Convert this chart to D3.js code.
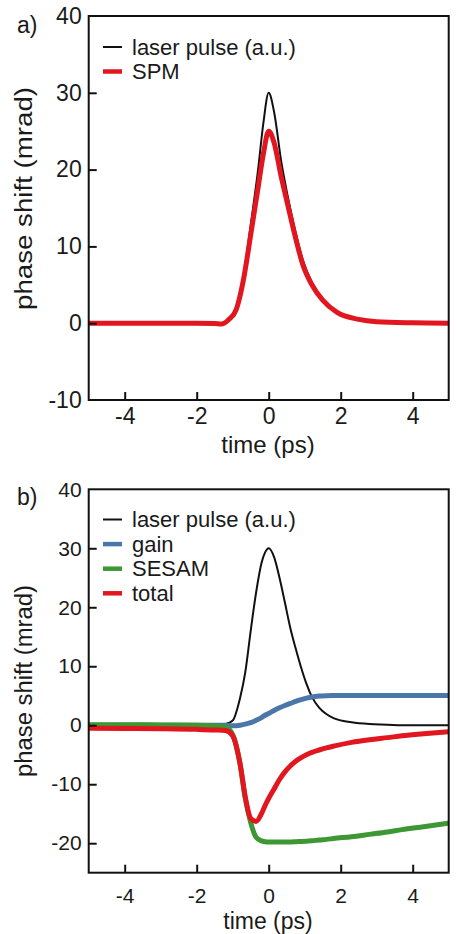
<!DOCTYPE html>
<html><head><meta charset="utf-8">
<script src="https://cdn.jsdelivr.net/npm/d3@7"></script>
<style>
body{margin:0;background:#fff;}
svg{display:block;}
text{font-family:"Liberation Sans",Arial,Helvetica,sans-serif;fill:#1a1a1a;}
</style>
</head><body>
<svg id="c" width="456" height="934"></svg>
<script>
// ---- data ----
const xTicks = [-4, -2, 0, 2, 4];
const topYTicks = [-10, 0, 10, 20, 30, 40];
const botYTicks = [-20, -10, 0, 10, 20, 30, 40];

const topTime  = [-5, -4, -3, -2, -1.5, -1.3, -1.1, -0.9, -0.7, -0.5, -0.3, -0.15, 0, 0.15, 0.35, 0.5, 0.7, 0.95, 1.2, 1.5, 1.9, 2.5, 3, 4, 5];
const topLaser = [0, 0, 0, 0, 0, 0, 0.6, 2.1, 6.2, 12.8, 19.8, 26, 30, 27.5, 21, 17.2, 12.8, 8.2, 5.3, 3.1, 1.45, 0.5, 0.2, 0.05, 0];
const topSPM   = [0, 0, 0, 0, -0.05, -0.1, 0.5, 1.8, 5.7, 11.5, 17.5, 22, 25, 23.5, 19, 16, 12, 7.6, 5, 3, 1.4, 0.5, 0.2, 0.05, 0];

const botTime  = [-5, -4, -3, -2, -1.5, -1.2, -1.0, -0.8, -0.65, -0.5, -0.35, -0.2, -0.1, 0, 0.15, 0.3, 0.45, 0.6, 0.75, 0.9, 1.05, 1.2, 1.4, 1.6, 1.8, 2.3, 2.8, 3.3, 3.7, 4.3, 5];
const botLaser = [0, 0, 0, 0, 0, 0.2, 0.8, 4.5, 9.0, 16, 22.5, 27.5, 29.3, 30, 28.5, 25, 20.8, 16.5, 13, 9.8, 7.0, 4.8, 3.0, 1.9, 1.2, 0.5, 0.2, 0.1, 0, 0, 0];
const botGain  = [0, 0, 0, 0, 0, 0, -0.1, 0, 0.2, 0.45, 0.85, 1.3, 1.7, 2.0, 2.5, 2.95, 3.35, 3.7, 4.05, 4.35, 4.6, 4.8, 4.95, 5.02, 5.05, 5.05, 5.05, 5.05, 5.05, 5.05, 5.05];
const botSESAM = [0.1, 0.1, 0.05, 0, -0.1, -0.3, -1.6, -6.4, -12.4, -16.5, -19.0, -19.6, -19.75, -19.8, -19.8, -19.8, -19.8, -19.8, -19.75, -19.7, -19.65, -19.6, -19.45, -19.35, -19.2, -18.9, -18.5, -18.1, -17.7, -17.2, -16.6];
const botTotal = [-0.5, -0.55, -0.6, -0.7, -0.8, -0.9, -1.8, -6.4, -12.2, -15.8, -16.3, -15.0, -13.6, -12.4, -10.8, -9.2, -7.9, -6.9, -6.1, -5.5, -5.0, -4.6, -4.2, -3.85, -3.55, -2.9, -2.45, -2.1, -1.8, -1.45, -1.1];

const topSeries = [
  {name: "laser pulse (a.u.)", values: topLaser, color: "#111111", width: 2},
  {name: "SPM", values: topSPM, color: "#e2161e", width: 5}
];
const botSeries = [
  {name: "laser pulse (a.u.)", values: botLaser, color: "#111111", width: 2},
  {name: "gain", values: botGain, color: "#4a76a8", width: 5},
  {name: "SESAM", values: botSESAM, color: "#3d9834", width: 5},
  {name: "total", values: botTotal, color: "#e2161e", width: 5}
];

const svg = d3.select("#c");
const X0 = 88.7, X1 = 448.7;
const fmt = d => String(d);

function panel(opt) {
  const x = d3.scaleLinear().domain([-5, 5]).range([X0, X1]);
  const y = d3.scaleLinear().domain(opt.yDomain).range([opt.yBottom, opt.yTop]);
  const g = svg.append("g");

  // curves
  const line = d3.line().x((d, i) => x(opt.time[i])).y(d => y(d)).curve(d3.curveMonotoneX);
  const clipId = "clip" + opt.id;
  svg.append("clipPath").attr("id", clipId).append("rect")
    .attr("x", X0).attr("y", opt.yTop).attr("width", X1 - X0).attr("height", opt.yBottom - opt.yTop);
  const cg = g.append("g").attr("clip-path", `url(#${clipId})`);
  opt.series.forEach(s => {
    cg.append("path").attr("d", line(s.values)).attr("fill", "none")
      .attr("stroke", s.color).attr("stroke-width", s.width)
      .attr("stroke-linejoin", "round").attr("stroke-linecap", "round");
  });

  // axes
  const ya = g.append("g").attr("transform", `translate(${X0},0)`)
    .call(d3.axisLeft(y).tickValues(opt.yTicks).tickSize(-8).tickPadding(7).tickFormat(fmt));
  ya.select(".domain").remove();
  ya.selectAll(".tick line").attr("stroke", "#111").attr("stroke-width", 2)
    .filter(d => d === opt.yDomain[0] || d === opt.yDomain[1]).remove();
  ya.selectAll(".tick text").attr("font-size", opt.tickFont).attr("font-family", null).attr("fill", "#1a1a1a");

  const xa = g.append("g").attr("transform", `translate(0,${opt.yBottom})`)
    .call(d3.axisBottom(x).tickValues(xTicks).tickSize(-8).tickPadding(opt.xPad).tickFormat(fmt));
  xa.select(".domain").remove();
  xa.selectAll(".tick line").attr("stroke", "#111").attr("stroke-width", 2);
  xa.selectAll(".tick text").attr("font-size", opt.tickFont).attr("font-family", null).attr("fill", "#1a1a1a");

  // frame
  g.append("rect").attr("x", X0).attr("y", opt.yTop).attr("width", X1 - X0).attr("height", opt.yBottom - opt.yTop)
    .attr("fill", "none").attr("stroke", "#111").attr("stroke-width", 2);

  // titles
  g.append("text").attr("x", 268).attr("y", opt.xTitleY).attr("text-anchor", "middle")
    .attr("font-size", opt.xTitleFont).text("time (ps)");
  g.append("text").attr("transform", `translate(31.5,${opt.yTitleC}) rotate(-90)`).attr("text-anchor", "middle")
    .attr("font-size", 23).attr("textLength", opt.yTitleLen).attr("lengthAdjust", "spacingAndGlyphs")
    .text("phase shift (mrad)");
  g.append("text").attr("x", 17).attr("y", opt.labelY).attr("font-size", 23).text(opt.label);

  // legend
  opt.series.forEach((s, i) => {
    const ly = opt.legY + i * opt.legStep;
    g.append("line").attr("x1", 103).attr("x2", 122).attr("y1", ly).attr("y2", ly)
      .attr("stroke", s.color).attr("stroke-width", s.width === 2 ? 2 : 4.5);
    g.append("text").attr("x", 132).attr("y", ly).attr("dy", "0.35em").attr("font-size", 22).text(s.name);
  });
}

panel({id: "a", yDomain: [-10, 40], yTop: 16, yBottom: 400, yTicks: topYTicks, time: topTime, series: topSeries,
       tickFont: 23, xPad: 8, xTitleY: 453, xTitleFont: 24, yTitleC: 198.5, yTitleLen: 223, label: "a)", labelY: 33, legY: 47, legStep: 24.5});
panel({id: "b", yDomain: [-25, 40], yTop: 489.3, yBottom: 872.7, yTicks: botYTicks, time: botTime, series: botSeries,
       tickFont: 21, xPad: 15, xTitleY: 929, xTitleFont: 23, yTitleC: 681, yTitleLen: 192, label: "b)", labelY: 505, legY: 519.5, legStep: 24.6});
</script>
</body></html>
